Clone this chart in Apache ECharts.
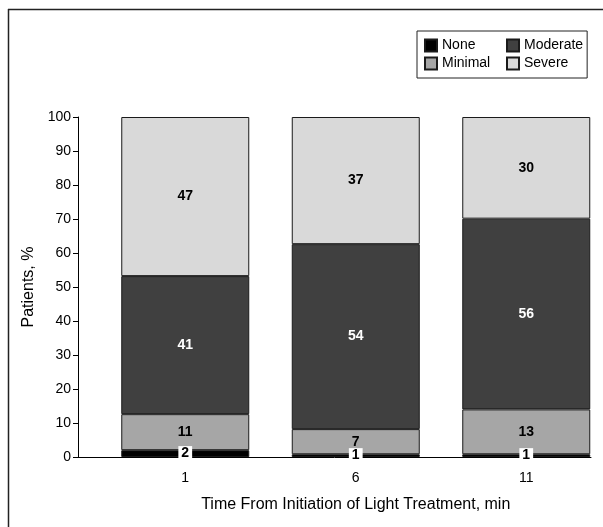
<!DOCTYPE html>
<html>
<head>
<meta charset="utf-8">
<script src="https://cdn.jsdelivr.net/npm/echarts@6/dist/echarts.min.js"></script>
<style>
html,body{margin:0;padding:0;background:#fff;}
#chart{width:603px;height:527px;}
</style>
</head>
<body>
<div id="chart"></div>
<script>
// Data
var categories = ['1', '6', '11'];
var seriesNames = ['None', 'Minimal', 'Moderate', 'Severe'];
var noneVals = [2.0, 0.8, 0.8];
var minimalVals = [10.6, 7.4, 13.2];
var moderateVals = [40.6, 54.4, 56.1];
var severeVals = [46.8, 37.4, 29.9];
var noneLabels = ['2', '1', '1'];
var minimalLabels = ['11', '7', '13'];
var moderateLabels = ['41', '54', '56'];
var severeLabels = ['47', '37', '30'];

var FONT = '"Liberation Sans", Arial, sans-serif';
var colors = ['#000000', '#a6a6a6', '#404040', '#d9d9d9'];
var textColors = ['#000000', '#000000', '#ffffff', '#000000'];
var allVals = [noneVals, minimalVals, moderateVals, severeVals];
var allLabels = [noneLabels, minimalLabels, moderateLabels, severeLabels];

var series = seriesNames.map(function (name, si) {
  var lbl = {
    show: true,
    position: 'inside',
    fontFamily: FONT,
    fontWeight: 'bold',
    fontSize: 14,
    color: textColors[si],
    formatter: function (p) { return allLabels[si][p.dataIndex]; }
  };
  if (si === 0) {
    lbl.backgroundColor = '#ffffff';
    lbl.padding = [1, 3, 0, 3];
  }
  return {
    name: name,
    type: 'bar',
    stack: 'total',
    barWidth: 128,
    xAxisIndex: 0,
    yAxisIndex: 0,
    data: allVals[si],
    itemStyle: { color: colors[si], borderColor: '#1a1a1a', borderWidth: 1 },
    label: lbl,
    z: si === 0 ? 5 : 2
  };
});

var chart = echarts.init(document.getElementById('chart'), null, { renderer: 'canvas' });
chart.setOption({
  animation: false,
  backgroundColor: '#ffffff',
  textStyle: { fontFamily: FONT },
  graphic: [
    { type: 'line', shape: { x1: 8, y1: 9.5, x2: 603, y2: 9.5 }, style: { stroke: '#222', lineWidth: 1.5 } },
    { type: 'line', shape: { x1: 8.5, y1: 9, x2: 8.5, y2: 527 }, style: { stroke: '#222', lineWidth: 1.5 } }
  ],
  legend: {
    data: [
      { name: 'None', textStyle: { width: 63 } },
      { name: 'Moderate' },
      { name: 'Minimal', textStyle: { width: 63 } },
      { name: 'Severe' }
    ],
    orient: 'horizontal',
    left: 417,
    top: 31,
    width: 172,
    padding: [6, 4, 6, 7],
    itemGap: 1,
    itemWidth: 12,
    itemHeight: 12,
    icon: 'rect',
    borderColor: '#222',
    borderWidth: 1,
    textStyle: { fontFamily: FONT, fontSize: 14, lineHeight: 17, color: '#000' }
  },
  grid: [
    { left: 100, width: 511.5, top: 117, bottom: 70, outerBoundsMode: 'none', containLabel: false },
    { left: 78, right: 12, top: 117, bottom: 70, outerBoundsMode: 'none', containLabel: false }
  ],
  xAxis: [
    {
      type: 'category',
      gridIndex: 0,
      data: categories,
      axisLine: { show: false },
      axisTick: { show: false },
      axisLabel: { fontFamily: FONT, fontSize: 14, color: '#000', margin: 14 },
      name: 'Time From Initiation of Light Treatment, min',
      nameLocation: 'middle',
      nameGap: 40,
      nameTextStyle: { fontFamily: FONT, fontSize: 16, color: '#000' }
    },
    {
      type: 'value',
      gridIndex: 1,
      min: 0,
      max: 1,
      splitLine: { show: false },
      axisLine: { show: true, onZero: false, lineStyle: { color: '#000', width: 1 } },
      axisTick: { show: false },
      axisLabel: { show: false }
    }
  ],
  yAxis: [
    {
      type: 'value',
      gridIndex: 0,
      min: 0,
      max: 100,
      interval: 10,
      show: false
    },
    {
      type: 'value',
      gridIndex: 1,
      min: 0,
      max: 100,
      interval: 10,
      splitLine: { show: false },
      axisLine: { show: true, onZero: false, lineStyle: { color: '#000', width: 1 } },
      axisTick: { show: true, length: 5, lineStyle: { color: '#000' } },
      axisLabel: { fontFamily: FONT, fontSize: 14, color: '#000', margin: 7 },
      name: 'Patients, %',
      nameLocation: 'middle',
      nameGap: 33,
      nameTextStyle: { fontFamily: FONT, fontSize: 16, color: '#000' }
    }
  ],
  series: series
});
</script>
</body>
</html>
